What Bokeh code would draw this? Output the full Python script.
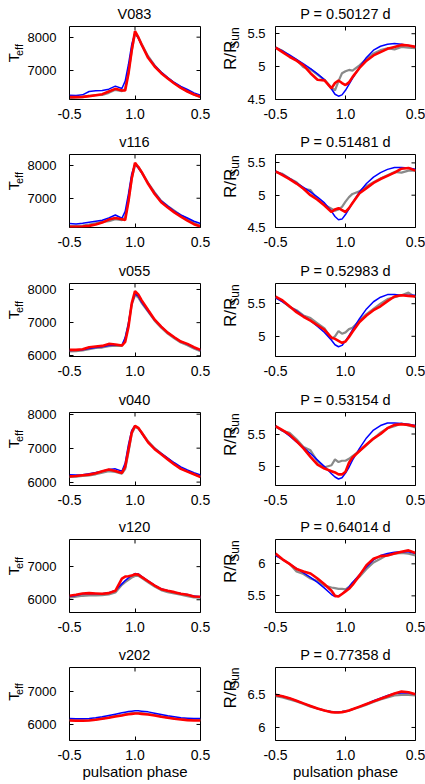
from math import pi
from bokeh.plotting import figure
from bokeh.models import Range1d, FixedTicker, NumeralTickFormatter
from bokeh.layouts import row, column
from bokeh.core.properties import value
from bokeh.embed import file_html
from bokeh.resources import INLINE

# ---------------- data ----------------
phase = [-0.5, -0.45, -0.4, -0.35, -0.3, -0.25, -0.2, -0.15, -0.1, -0.075, -0.05, -0.025,
         0.0, 0.025, 0.05, 0.1, 0.15, 0.2, 0.25, 0.3, 0.35, 0.4, 0.45, 0.5]

x_ticks = [-0.5, 0.0, 0.5]
x_tick_labels = ["-0.5", "1.0", "0.5"]
teff_ticks = [6000, 7000, 8000]
r_ticks = [4.5, 5.0, 5.5, 6.0, 6.5]

stars = ["V083", "v116", "v055", "v040", "v120", "v202"]
periods = ["P = 0.50127 d", "P = 0.51481 d", "P = 0.52983 d",
           "P = 0.53154 d", "P = 0.64014 d", "P = 0.77358 d"]
teff_label = ("T", "eff")
r_label = ("R/R", "Sun")
x_label = "pulsation phase"

teff_ranges = [(6130, 8320), (6110, 8330), (5980, 8180), (5900, 8050), (5615, 7820), (5515, 7720)]
r_ranges = [(4.50, 5.61), (4.50, 5.63), (4.69, 5.81), (4.71, 5.83), (5.24, 6.38), (5.80, 6.92)]

# V083
teff_v083_blue = [6260, 6250, 6270, 6370, 6390, 6400, 6440, 6530, 6460, 6680, 7180, 7780, 8130, 7980, 7760, 7400, 7150, 6950, 6790, 6640, 6520, 6430, 6330, 6260]
teff_v083_grey = [6170, 6190, 6200, 6240, 6260, 6270, 6330, 6420, 6380, 6450, 6950, 7600, 8100, 8000, 7800, 7430, 7150, 6940, 6770, 6620, 6490, 6380, 6280, 6200]
teff_v083_red = [6200, 6200, 6210, 6230, 6260, 6290, 6370, 6450, 6400, 6400, 6900, 7600, 8180, 8000, 7780, 7380, 7120, 6920, 6760, 6610, 6480, 6370, 6280, 6210]
r_v083_blue = [5.29, 5.24, 5.18, 5.11, 5.04, 4.97, 4.89, 4.80, 4.66, 4.58, 4.55, 4.57, 4.64, 4.73, 4.82, 4.99, 5.14, 5.25, 5.31, 5.34, 5.35, 5.34, 5.32, 5.30]
r_v083_grey = [5.29, 5.24, 5.16, 5.10, 4.99, 4.96, 4.88, 4.80, 4.68, 4.64, 4.78, 4.90, 4.93, 4.95, 4.94, 5.02, 5.12, 5.20, 5.25, 5.28, 5.26, 5.30, 5.29, 5.28]
r_v083_red = [5.29, 5.22, 5.15, 5.09, 5.02, 4.90, 4.80, 4.79, 4.67, 4.75, 4.79, 4.75, 4.72, 4.76, 4.84, 4.98, 5.09, 5.17, 5.22, 5.27, 5.30, 5.33, 5.32, 5.30]

# v116
teff_v116_blue = [6230, 6220, 6240, 6270, 6300, 6330, 6400, 6490, 6390, 6600, 7130, 7740, 8050, 7920, 7780, 7450, 7160, 6920, 6760, 6610, 6490, 6400, 6300, 6230]
teff_v116_grey = [6150, 6150, 6170, 6200, 6240, 6280, 6300, 6360, 6330, 6420, 6950, 7600, 8000, 7960, 7800, 7470, 7180, 6920, 6760, 6620, 6480, 6360, 6250, 6160]
teff_v116_red = [6130, 6130, 6140, 6160, 6200, 6260, 6350, 6400, 6360, 6340, 6900, 7600, 8080, 7950, 7800, 7440, 7130, 6880, 6720, 6570, 6440, 6320, 6210, 6140]
r_v116_blue = [5.37, 5.32, 5.26, 5.19, 5.12, 5.05, 4.97, 4.88, 4.75, 4.67, 4.62, 4.63, 4.70, 4.79, 4.88, 5.05, 5.18, 5.28, 5.35, 5.40, 5.43, 5.43, 5.42, 5.40]
r_v116_grey = [5.36, 5.33, 5.26, 5.20, 5.10, 5.08, 4.93, 4.85, 4.79, 4.76, 4.78, 4.82, 4.90, 4.97, 5.02, 5.06, 5.14, 5.20, 5.26, 5.31, 5.36, 5.35, 5.38, 5.38]
r_v116_red = [5.37, 5.31, 5.25, 5.18, 5.10, 5.00, 4.93, 4.84, 4.74, 4.78, 4.80, 4.77, 4.74, 4.80, 4.88, 5.03, 5.11, 5.19, 5.25, 5.30, 5.35, 5.41, 5.42, 5.38]

# v055
teff_v055_blue = [6160, 6170, 6180, 6220, 6250, 6270, 6310, 6330, 6320, 6550, 6980, 7560, 7870, 7800, 7620, 7340, 7080, 6880, 6700, 6560, 6430, 6350, 6250, 6170]
teff_v055_grey = [6130, 6140, 6160, 6200, 6240, 6250, 6290, 6310, 6300, 6500, 6950, 7540, 7830, 7760, 7600, 7330, 7060, 6850, 6670, 6530, 6400, 6320, 6220, 6140]
teff_v055_red = [6180, 6180, 6200, 6260, 6280, 6300, 6360, 6340, 6310, 6420, 6870, 7580, 7950, 7850, 7680, 7380, 7090, 6880, 6700, 6560, 6430, 6360, 6260, 6180]
r_v055_blue = [5.59, 5.53, 5.46, 5.39, 5.31, 5.24, 5.15, 5.06, 4.94, 4.87, 4.84, 4.86, 4.93, 5.01, 5.10, 5.27, 5.42, 5.53, 5.60, 5.64, 5.64, 5.63, 5.63, 5.63]
r_v055_grey = [5.60, 5.54, 5.45, 5.40, 5.32, 5.28, 5.20, 5.12, 4.96, 5.00, 5.08, 5.04, 5.06, 5.11, 5.13, 5.24, 5.34, 5.42, 5.50, 5.57, 5.60, 5.63, 5.67, 5.60]
r_v055_red = [5.61, 5.55, 5.46, 5.37, 5.30, 5.24, 5.17, 5.10, 4.98, 4.96, 4.93, 4.90, 4.92, 4.99, 5.07, 5.22, 5.32, 5.40, 5.46, 5.54, 5.61, 5.63, 5.62, 5.61]

# v040
teff_v040_blue = [6220, 6210, 6220, 6250, 6280, 6320, 6370, 6390, 6320, 6560, 7100, 7520, 7660, 7590, 7440, 7170, 6990, 6850, 6710, 6570, 6450, 6360, 6280, 6210]
teff_v040_grey = [6150, 6160, 6180, 6200, 6230, 6280, 6320, 6300, 6250, 6380, 6880, 7420, 7620, 7580, 7470, 7200, 7000, 6840, 6690, 6540, 6410, 6320, 6240, 6160]
teff_v040_red = [6170, 6180, 6200, 6220, 6260, 6320, 6370, 6330, 6270, 6450, 6950, 7460, 7660, 7600, 7460, 7170, 6970, 6820, 6670, 6520, 6390, 6310, 6230, 6150]
r_v040_blue = [5.62, 5.55, 5.47, 5.38, 5.29, 5.20, 5.10, 5.00, 4.89, 4.84, 4.81, 4.83, 4.90, 4.99, 5.10, 5.28, 5.44, 5.56, 5.63, 5.67, 5.67, 5.66, 5.65, 5.63]
r_v040_grey = [5.62, 5.55, 5.52, 5.42, 5.30, 5.25, 5.08, 4.99, 5.02, 5.11, 5.07, 5.09, 5.09, 5.12, 5.16, 5.24, 5.33, 5.43, 5.52, 5.59, 5.62, 5.66, 5.63, 5.60]
r_v040_red = [5.62, 5.56, 5.49, 5.39, 5.28, 5.15, 5.03, 4.97, 4.93, 4.91, 4.88, 4.88, 4.92, 5.06, 5.14, 5.24, 5.34, 5.43, 5.50, 5.59, 5.64, 5.65, 5.64, 5.62]

# v120
teff_v120_blue = [6100, 6130, 6170, 6190, 6180, 6180, 6210, 6280, 6480, 6580, 6660, 6730, 6790, 6780, 6710, 6570, 6440, 6330, 6270, 6230, 6190, 6160, 6110, 6090]
teff_v120_grey = [6060, 6090, 6120, 6130, 6130, 6140, 6160, 6220, 6450, 6530, 6600, 6670, 6720, 6720, 6660, 6530, 6400, 6290, 6230, 6190, 6150, 6110, 6070, 6060]
teff_v120_red = [6120, 6150, 6190, 6200, 6190, 6180, 6200, 6270, 6640, 6700, 6710, 6730, 6770, 6760, 6690, 6560, 6430, 6320, 6270, 6230, 6180, 6150, 6100, 6090]
r_v120_blue = [6.13, 6.07, 6.00, 5.93, 5.86, 5.79, 5.71, 5.62, 5.52, 5.49, 5.50, 5.53, 5.58, 5.64, 5.71, 5.83, 5.95, 6.06, 6.13, 6.16, 6.18, 6.19, 6.19, 6.16]
r_v120_grey = [6.14, 6.07, 6.00, 5.88, 5.84, 5.77, 5.73, 5.66, 5.63, 5.62, 5.61, 5.61, 5.60, 5.64, 5.70, 5.80, 5.92, 6.02, 6.08, 6.14, 6.16, 6.17, 6.16, 6.13]
r_v120_red = [6.16, 6.07, 6.00, 5.92, 5.88, 5.85, 5.77, 5.68, 5.58, 5.50, 5.49, 5.53, 5.57, 5.61, 5.67, 5.82, 5.98, 6.08, 6.12, 6.13, 6.16, 6.19, 6.21, 6.17]

# v202
teff_v202_blue = [6180, 6170, 6170, 6180, 6200, 6230, 6270, 6310, 6350, 6370, 6390, 6400, 6410, 6410, 6400, 6380, 6340, 6300, 6260, 6230, 6200, 6190, 6180, 6180]
teff_v202_grey = [6135, 6125, 6125, 6135, 6155, 6185, 6215, 6255, 6285, 6305, 6325, 6335, 6345, 6345, 6335, 6315, 6285, 6245, 6215, 6185, 6165, 6145, 6135, 6135]
teff_v202_red = [6120, 6110, 6110, 6120, 6140, 6170, 6200, 6240, 6270, 6290, 6310, 6320, 6330, 6330, 6320, 6300, 6270, 6230, 6200, 6170, 6150, 6130, 6120, 6120]
r_v202_blue = [6.50, 6.48, 6.45, 6.41, 6.37, 6.33, 6.29, 6.26, 6.24, 6.235, 6.235, 6.24, 6.25, 6.26, 6.28, 6.32, 6.36, 6.41, 6.45, 6.49, 6.52, 6.53, 6.53, 6.51]
r_v202_grey = [6.48, 6.46, 6.43, 6.40, 6.36, 6.32, 6.29, 6.26, 6.24, 6.235, 6.235, 6.24, 6.25, 6.26, 6.28, 6.31, 6.35, 6.39, 6.43, 6.46, 6.49, 6.50, 6.50, 6.49]
r_v202_red = [6.50, 6.48, 6.45, 6.41, 6.37, 6.33, 6.29, 6.26, 6.235, 6.23, 6.23, 6.235, 6.245, 6.26, 6.28, 6.32, 6.36, 6.40, 6.44, 6.48, 6.52, 6.55, 6.54, 6.51]

teff_curves = [
    (teff_v083_blue, teff_v083_grey, teff_v083_red),
    (teff_v116_blue, teff_v116_grey, teff_v116_red),
    (teff_v055_blue, teff_v055_grey, teff_v055_red),
    (teff_v040_blue, teff_v040_grey, teff_v040_red),
    (teff_v120_blue, teff_v120_grey, teff_v120_red),
    (teff_v202_blue, teff_v202_grey, teff_v202_red),
]
r_curves = [
    (r_v083_blue, r_v083_grey, r_v083_red),
    (r_v116_blue, r_v116_grey, r_v116_red),
    (r_v055_blue, r_v055_grey, r_v055_red),
    (r_v040_blue, r_v040_grey, r_v040_red),
    (r_v120_blue, r_v120_grey, r_v120_red),
    (r_v202_blue, r_v202_grey, r_v202_red),
]

# ---------------- layout / styling ----------------
FONT = "Liberation Sans"
BLUE = "#0000ff"
GREY = "#8a8a8a"
RED = "#ff0000"

FRAME_H = 73
TOP = 4                                 # room above each frame (inside the panel figure)
TITLE_H = [22, 18, 19, 19, 17, 18]      # band above each row of panels
BOTTOM = 33                             # space under each frame
BOTTOM_LAST = 43
W_LAB_T, W_T, W_LAB_R, W_R = 24, 191, 27, 183
FW_T, FW_R = 132, 140
MBL_T, MBL_R = 44, 33


def blank(width, height):
    p = figure(width=width, height=height, x_range=Range1d(0, width), y_range=Range1d(0, height),
               x_axis_type=None, y_axis_type=None, toolbar_location=None, output_backend="svg",
               min_border=0, min_border_left=0, min_border_right=0, min_border_top=0,
               min_border_bottom=0)
    p.grid.visible = False
    p.outline_line_color = None
    p.background_fill_color = "white"
    p.border_fill_color = "white"
    return p


def axis_style(ax, font_size, standoff):
    ax.major_tick_in = 4
    ax.major_tick_out = 0
    ax.minor_tick_line_color = None
    ax.major_tick_line_color = "black"
    ax.axis_line_color = None
    ax.major_label_text_font = FONT
    ax.major_label_text_font_size = font_size
    ax.major_label_text_color = "black"
    ax.major_label_standoff = standoff


def make_panel(left, curves, yr, last):
    width = W_T if left else W_R
    fw = FW_T if left else FW_R
    mbl = MBL_T if left else MBL_R
    bottom = BOTTOM_LAST if last else BOTTOM
    p = figure(width=width, height=TOP + FRAME_H + bottom,
               x_range=Range1d(-0.5, 0.5), y_range=Range1d(*yr),
               toolbar_location=None, output_backend="svg",
               min_border_left=mbl, min_border_right=width - fw - mbl,
               min_border_top=TOP, min_border_bottom=bottom)
    p.grid.visible = False
    p.outline_line_color = "black"
    p.outline_line_width = 1
    p.outline_line_alpha = 1
    p.background_fill_color = "white"
    p.border_fill_color = "white"

    xa = p.below[0]
    xa.ticker = FixedTicker(ticks=x_ticks)
    xa.major_label_overrides = dict(zip(x_ticks, x_tick_labels))
    axis_style(xa, "14px", 9)
    if last:
        xa.axis_label = x_label
        xa.axis_label_text_font = FONT
        xa.axis_label_text_font_size = "15px"
        xa.axis_label_text_font_style = "normal"
        xa.axis_label_text_color = "black"
        xa.axis_label_standoff = 0

    yt = teff_ticks if left else r_ticks
    ya = p.left[0]
    ya.ticker = FixedTicker(ticks=yt)
    if not left:
        ya.formatter = NumeralTickFormatter(format="0.[0]")
    axis_style(ya, "13px", 13 if left else 10)

    # mirrored inward ticks on the top and right edges of the frame
    span = yr[1] - yr[0]
    p.segment(x0=x_ticks, x1=x_ticks, y0=[yr[1]] * len(x_ticks),
              y1=[yr[1] - 4.0 / FRAME_H * span] * len(x_ticks), line_color="black", line_width=1)
    yin = [t for t in yt if yr[0] < t < yr[1]]
    p.segment(x0=[0.5] * len(yin), x1=[0.5 - 4.0 / fw] * len(yin), y0=yin, y1=yin,
              line_color="black", line_width=1)

    blue, grey, red = curves
    p.line(phase, grey, color=GREY, line_width=2.2)
    p.line(phase, blue, color=BLUE, line_width=1.5)
    p.line(phase, red, color=RED, line_width=2.6)
    return p


def ylabel_fig(width, height, parts, sizes, xs, offs):
    # offs: distance of each part's centre below the frame top
    p = blank(width, height)
    p.text(x=list(xs), y=[height - TOP - o for o in offs], text=list(parts), angle=pi / 2,
           text_align="center", text_baseline="middle", text_color="black",
           text_font=value(FONT), text_font_size=list(sizes))
    return p


def title_fig(width, height, cx, text):
    p = blank(width, height)
    p.text(x=[cx], y=[13 - TOP], text=[text], text_align="center", text_baseline="middle",
           text_color="black", text_font=value(FONT), text_font_size=value("14.5px"))
    return p


rows_out = []
for i in range(6):
    last = i == 5
    h = TOP + FRAME_H + (BOTTOM_LAST if last else BOTTOM)
    th = TITLE_H[i]
    rows_out.append(row(
        title_fig(W_LAB_T + W_T, th, W_LAB_T + MBL_T + FW_T / 2.0, stars[i]),
        title_fig(W_LAB_R + W_R, th, W_LAB_R + MBL_R + FW_R / 2.0, periods[i]),
    ))
    rows_out.append(row(
        ylabel_fig(W_LAB_T, h, teff_label, ["15px", "11px"], [13, 18], [43, 31.5]),
        make_panel(True, teff_curves[i], teff_ranges[i], last),
        ylabel_fig(W_LAB_R, h, r_label, ["17px", "12px"], [15, 19], [39.5, 13.5]),
        make_panel(False, r_curves[i], r_ranges[i], last),
    ))

layout = column(*rows_out)

open("out.html", "w").write(file_html(layout, INLINE))
